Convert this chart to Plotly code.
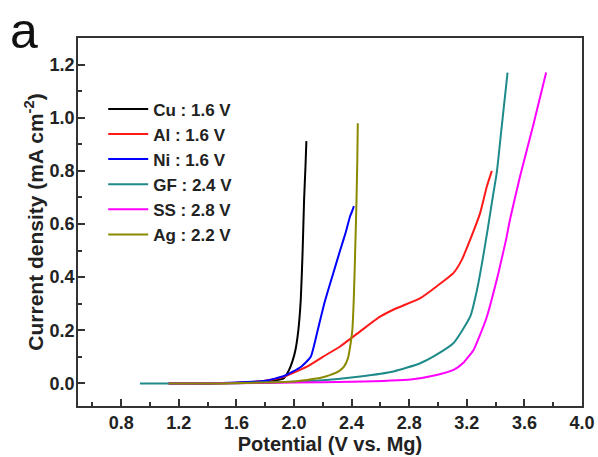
import plotly.graph_objects as go

# ---- data ----
cu_x = [1.13, 1.4, 1.6, 1.8, 1.88, 1.93, 1.965, 1.99, 2.01, 2.03, 2.047, 2.06, 2.07, 2.08, 2.086]
cu_y = [0.0, 0.0, 0.002, 0.008, 0.013, 0.02, 0.05, 0.085, 0.126, 0.2, 0.315, 0.5, 0.69, 0.82, 0.912]

al_x = [1.13, 1.5, 1.8, 1.93, 2.09, 2.2, 2.32, 2.46, 2.6, 2.7, 2.877, 2.99, 3.108, 3.166, 3.224, 3.293, 3.34, 3.374]
al_y = [0.0, 0.001, 0.01, 0.025, 0.063, 0.10, 0.139, 0.196, 0.252, 0.28, 0.321, 0.365, 0.416, 0.466, 0.542, 0.642, 0.743, 0.80]

ni_x = [1.13, 1.4, 1.6, 1.8, 1.93, 2.05, 2.116, 2.16, 2.21, 2.27, 2.32, 2.36, 2.39, 2.405, 2.416]
ni_y = [0.0, 0.0, 0.003, 0.01, 0.028, 0.063, 0.10, 0.19, 0.3, 0.41, 0.50, 0.57, 0.63, 0.65, 0.667]

gf_x = [0.93, 1.2, 1.6, 2.0, 2.2, 2.46, 2.69, 2.877, 2.99, 3.108, 3.224, 3.27, 3.31, 3.345, 3.38, 3.408, 3.443, 3.483]
gf_y = [0.0, 0.0, 0.001, 0.006, 0.012, 0.026, 0.045, 0.076, 0.108, 0.152, 0.252, 0.35, 0.466, 0.58, 0.70, 0.793, 0.969, 1.17]

ss_x = [1.13, 1.6, 2.0, 2.4, 2.81, 2.99, 3.108, 3.18, 3.247, 3.29, 3.34, 3.408, 3.43, 3.473, 3.5, 3.57, 3.66, 3.751]
ss_y = [0.0, 0.001, 0.003, 0.006, 0.015, 0.032, 0.051, 0.08, 0.126, 0.18, 0.252, 0.39, 0.44, 0.542, 0.617, 0.78, 0.969, 1.17]

ag_x = [1.13, 1.5, 1.8, 2.0, 2.09, 2.18, 2.254, 2.31, 2.347, 2.375, 2.39, 2.405, 2.415, 2.425, 2.434, 2.44, 2.443]
ag_y = [0.0, 0.0, 0.003, 0.007, 0.013, 0.02, 0.032, 0.045, 0.063, 0.095, 0.139, 0.2, 0.315, 0.5, 0.69, 0.85, 0.979]

series_names = ["Cu : 1.6 V", "Al : 1.6 V", "Ni : 1.6 V", "GF : 2.4 V", "SS : 2.8 V", "Ag : 2.2 V"]
series_colors = ["#000000", "#ff1a1a", "#0000ff", "#1f8a8a", "#ff00ff", "#8a8a00"]

x_ticks = [0.8, 1.2, 1.6, 2.0, 2.4, 2.8, 3.2, 3.6, 4.0]
y_ticks = [0.0, 0.2, 0.4, 0.6, 0.8, 1.0, 1.2]

xs = [cu_x, al_x, ni_x, gf_x, ss_x, ag_x]
ys = [cu_y, al_y, ni_y, gf_y, ss_y, ag_y]

FONT = "Liberation Sans, Arial, sans-serif"

fig = go.Figure()
for x, y, n, c in zip(xs, ys, series_names, series_colors):
    fig.add_trace(go.Scatter(x=x, y=y, name=n, mode="lines",
                             line=dict(color=c, width=2, shape="spline", smoothing=0.5)))

axis_common = dict(
    showline=True, linewidth=1.5, linecolor="#333333", mirror=True,
    ticks="inside", ticklen=7, tickwidth=1.5, tickcolor="#333333",
    showgrid=False, zeroline=False,
    tickfont=dict(family=FONT, size=18, color="#222222", weight="bold"),
)

fig.update_xaxes(
    range=[0.5, 4.0], tickmode="array", tickvals=x_ticks,
    ticktext=[f"{v:.1f}" for v in x_ticks],
    minor=dict(dtick=0.2, tick0=0.0, ticks="inside", ticklen=4, tickwidth=1.5, tickcolor="#333333"),
    title=dict(text="Potential (V vs. Mg)", font=dict(family=FONT, size=20, color="#222222", weight="bold"),
               standoff=0),
    ticklabelstandoff=0,
    **axis_common,
)
fig.update_yaxes(
    range=[-0.085, 1.3], tickmode="array", tickvals=y_ticks,
    ticktext=[f"{v:.1f}" for v in y_ticks],
    minor=dict(dtick=0.1, tick0=0.0, ticks="inside", ticklen=4, tickwidth=1.5, tickcolor="#333333"),
    title=dict(text="Current density (mA cm<sup>-2</sup>)",
               font=dict(family=FONT, size=21, color="#222222", weight="bold"), standoff=0),
    ticklabelstandoff=-2,
    **axis_common,
)

fig.update_layout(
    width=598, height=457,
    margin=dict(l=78, r=16, t=38, b=51, autoexpand=False),
    paper_bgcolor="white", plot_bgcolor="white",
    showlegend=True,
    legend=dict(x=0.05, y=0.855, xanchor="left", yanchor="top",
                bgcolor="rgba(0,0,0,0)", borderwidth=0,
                font=dict(family=FONT, size=17, color="#222222", weight="bold"),
                itemwidth=40),
    annotations=[dict(text="a", xref="paper", yref="paper", x=-0.139, y=1.1005,
                      xanchor="left", yanchor="top", showarrow=False,
                      font=dict(family="Liberation Sans, Arial, sans-serif", size=50, color="#111111"))],
)

fig.write_html("out.html")
